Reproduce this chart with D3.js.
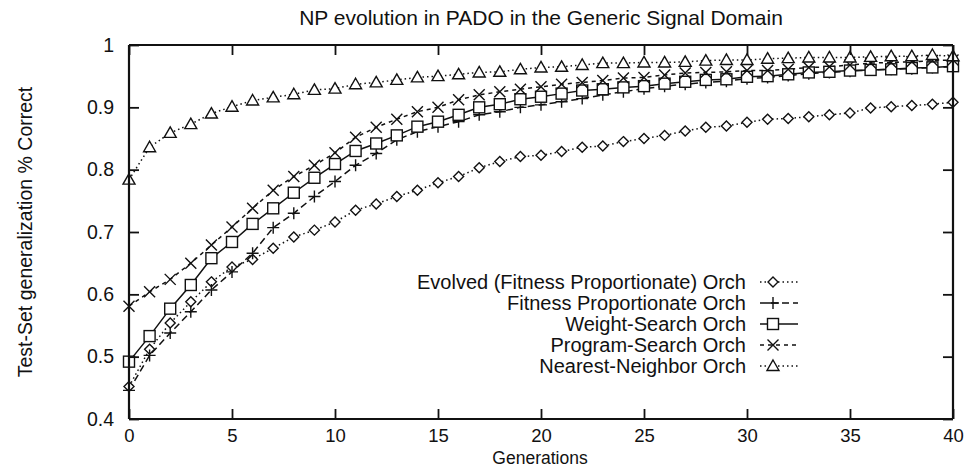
<!DOCTYPE html>
<html><head><meta charset="utf-8">
<script src="https://cdn.jsdelivr.net/npm/d3@7"></script>
<style>body{margin:0;background:#fff}svg{display:block}text{font-family:"Liberation Sans",Arial,sans-serif;fill:#111}</style>
</head><body><svg id="c" width="966" height="468"></svg>
<script>
const generations = d3.range(0, 41);
const evolved = [0.452,0.512,0.554,0.588,0.620,0.644,0.656,0.674,0.692,0.703,0.716,0.735,0.745,0.757,0.767,0.779,0.789,0.803,0.813,0.821,0.823,0.829,0.836,0.838,0.845,0.850,0.855,0.862,0.868,0.870,0.876,0.881,0.882,0.885,0.888,0.891,0.899,0.901,0.903,0.905,0.908];
const fitnessProp = [0.446,0.502,0.538,0.572,0.607,0.636,0.666,0.707,0.730,0.757,0.781,0.807,0.826,0.848,0.861,0.869,0.877,0.888,0.893,0.900,0.904,0.909,0.914,0.920,0.925,0.930,0.934,0.937,0.940,0.942,0.946,0.948,0.951,0.954,0.956,0.958,0.960,0.961,0.962,0.964,0.965];
const weightSearch = [0.492,0.533,0.577,0.615,0.658,0.684,0.713,0.738,0.763,0.787,0.809,0.830,0.842,0.855,0.869,0.877,0.888,0.900,0.905,0.913,0.917,0.922,0.927,0.929,0.932,0.934,0.938,0.941,0.944,0.945,0.949,0.950,0.953,0.956,0.957,0.959,0.960,0.961,0.963,0.964,0.966];
const programSearch = [0.581,0.604,0.624,0.650,0.679,0.708,0.738,0.767,0.789,0.807,0.827,0.852,0.868,0.881,0.893,0.900,0.912,0.920,0.925,0.929,0.933,0.937,0.940,0.943,0.947,0.948,0.952,0.955,0.956,0.957,0.959,0.959,0.961,0.964,0.965,0.968,0.971,0.972,0.973,0.975,0.976];
const nearestNeighbor = [0.784,0.836,0.859,0.873,0.890,0.901,0.911,0.916,0.921,0.928,0.930,0.937,0.940,0.944,0.948,0.950,0.953,0.956,0.957,0.961,0.964,0.965,0.968,0.971,0.971,0.972,0.972,0.973,0.975,0.976,0.976,0.978,0.979,0.980,0.980,0.980,0.981,0.982,0.982,0.984,0.982];
const seriesNames = ["Evolved (Fitness Proportionate) Orch","Fitness Proportionate Orch","Weight-Search Orch","Program-Search Orch","Nearest-Neighbor Orch"];
const xTicks = [0,5,10,15,20,25,30,35,40];
const yTicks = [0.4,0.5,0.6,0.7,0.8,0.9,1];

const series = [
  {name: seriesNames[0], values: evolved, dash: "1.5,3", marker: "diamond"},
  {name: seriesNames[1], values: fitnessProp, dash: "7,4", marker: "plus"},
  {name: seriesNames[2], values: weightSearch, dash: null, marker: "square"},
  {name: seriesNames[3], values: programSearch, dash: "4,4", marker: "cross"},
  {name: seriesNames[4], values: nearestNeighbor, dash: "1.5,3", marker: "triangle"}
];

const svg = d3.select("#c");
const L = 129, R = 953, T = 45, B = 419;
const x = d3.scaleLinear().domain([0,40]).range([L,R]);
const y = d3.scaleLinear().domain([0.4,1]).range([B,T]);

function drawMarker(g, type, cx, cy) {
  const s = g.append("g").attr("transform", `translate(${cx},${cy})`)
    .attr("fill","none").attr("stroke","#111").attr("stroke-width",1.4);
  if (type === "diamond") s.append("path").attr("d","M0,-5L5,0L0,5L-5,0Z").attr("fill","#fff");
  else if (type === "plus") s.append("path").attr("d","M-6,0H6M0,-6V6");
  else if (type === "square") s.append("rect").attr("x",-5.5).attr("y",-5.5).attr("width",11).attr("height",11).attr("fill","#fff");
  else if (type === "cross") s.append("path").attr("d","M-5.5,-5.5L5.5,5.5M-5.5,5.5L5.5,-5.5");
  else if (type === "triangle") s.append("path").attr("d","M0,-6L6,4.5L-6,4.5Z").attr("fill","#fff");
}

const line = d3.line().x((d,i)=>x(generations[i])).y(d=>y(d));
series.forEach(s => {
  svg.append("path").attr("d", line(s.values)).attr("fill","none")
    .attr("stroke","#111").attr("stroke-width",1.5)
    .attr("stroke-dasharray", s.dash);
});
series.forEach(s => {
  const g = svg.append("g");
  s.values.forEach((v,i) => drawMarker(g, s.marker, x(generations[i]), y(v)));
});

const axB = d3.axisBottom(x).tickValues(xTicks).tickSize(-10).tickPadding(10).tickFormat(d3.format("d"));
const axT = d3.axisTop(x).tickValues(xTicks).tickSize(-10).tickFormat("");
const axL = d3.axisLeft(y).tickValues(yTicks).tickSize(-10).tickPadding(15).tickFormat(d=>d===1?"1":d3.format(".1f")(d));
const axR = d3.axisRight(y).tickValues(yTicks).tickSize(-10).tickFormat("");
function style(fs){ return g => { g.select(".domain").attr("stroke","#111").attr("stroke-width",2.2);
  g.selectAll(".tick line").attr("stroke","#111").attr("stroke-width",1.8);
  g.selectAll("text").attr("font-size",fs).attr("fill","#111").attr("font-family","Liberation Sans, Arial, sans-serif"); }; }
svg.append("g").attr("transform",`translate(0,${B})`).call(axB).call(style(18.5)).call(g=>g.select(".domain").attr("d",`M${L},0H${R}`));
svg.append("g").attr("transform",`translate(0,${T})`).call(axT).call(style(18.5)).call(g=>g.select(".domain").attr("d",`M${L},0H${R}`));
svg.append("g").attr("transform",`translate(${L},0)`).call(axL).call(style(19.5)).call(g=>g.select(".domain").attr("d",`M0,${B}V${T}`));
svg.append("g").attr("transform",`translate(${R},0)`).call(axR).call(style(19.5)).call(g=>g.select(".domain").attr("d",`M0,${B}V${T}`));

svg.append("text").attr("x",541).attr("y",25).attr("text-anchor","middle").attr("font-size",21).text("NP evolution in PADO in the Generic Signal Domain");
svg.append("text").attr("x",540).attr("y",464).attr("text-anchor","middle").attr("font-size",17.5).text("Generations");
svg.append("text").attr("transform","translate(32,232) rotate(-90)").attr("text-anchor","middle").attr("font-size",19.5).text("Test-Set generalization % Correct");

const legX = 746, legY0 = 282, legDy = 21;
series.forEach((s,i) => {
  const yy = legY0 + i*legDy;
  svg.append("text").attr("x",legX).attr("y",yy).attr("dy","0.36em").attr("text-anchor","end").attr("font-size",20).text(s.name);
  svg.append("line").attr("x1",760).attr("x2",798).attr("y1",yy).attr("y2",yy)
    .attr("stroke","#111").attr("stroke-width",1.5).attr("stroke-dasharray",s.dash);
  drawMarker(svg, s.marker, 773, yy);
});
</script></body></html>
